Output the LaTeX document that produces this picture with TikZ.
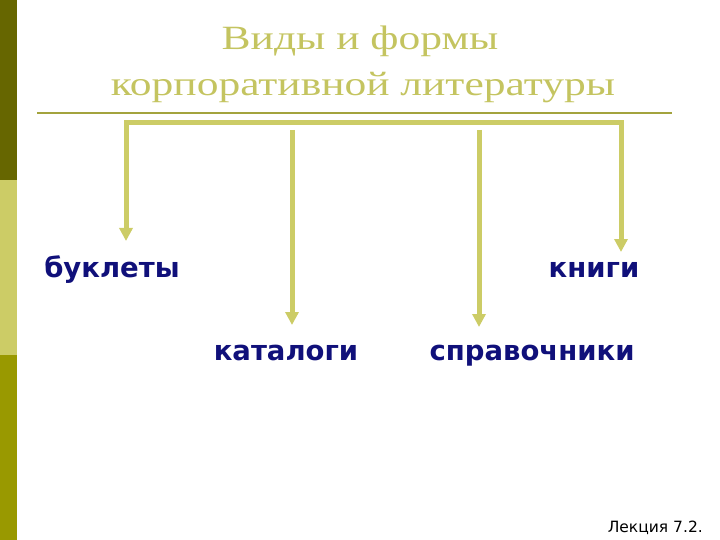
\documentclass[tikz,border=0pt]{standalone}
\usepackage{graphicx}
\usepackage{fontspec}
\setmainfont{Liberation Serif}
\newfontfamily\kindfont{DejaVu Sans}
\usetikzlibrary{arrows.meta}

\definecolor{olivedark}{HTML}{666600}
\definecolor{olivelight}{HTML}{CCCC66}
\definecolor{olivemid}{HTML}{999900}
\definecolor{titlecol}{HTML}{C4C460}
\definecolor{rulecol}{HTML}{A3A33D}
\definecolor{kindblue}{HTML}{10107A}

\newcommand{\widetitle}[1]{\scalebox{1.28}[1]{#1}}

\tikzset{
  title/.style={font=\fontsize{34}{40}\selectfont, text=titlecol, inner sep=0pt, anchor=base},
  kind/.style={font=\kindfont\bfseries\fontsize{27.5}{32}\selectfont, text=kindblue, inner sep=0pt, anchor=base},
  branch/.style={draw=olivelight, line width=5pt, >={Triangle[width=13pt,length=13pt]}},
}

\begin{document}
\begin{tikzpicture}[x=1pt,y=-1pt]
\useasboundingbox (0,0) rectangle (720,540);

% side bar
\fill[olivedark]  (0,0)   rectangle (17,180);
\fill[olivelight] (0,180) rectangle (17,355);
\fill[olivemid]   (0,355) rectangle (17,540);

\node[title] (t1) at (360,50) {\widetitle{Виды и формы}};
\node[title] (t2) at (363,96) {\widetitle{корпоративной литературы}};
\draw[rulecol, line width=2pt] (37,113) -- (672,113);

\node[kind] (bukl) at (112,277) {буклеты};
\node[kind] (knig) at (594,277) {книги};
\node[kind] (kat)  at (286,360) {каталоги};
\node[kind] (spr)  at (532,360) {справочники};

\coordinate (b1) at (126,123);
\coordinate (b4) at (621,123);
\coordinate (b2) at (292,130);
\coordinate (b3) at (479,130);

\coordinate (e1) at (126,241);
\coordinate (e2) at (292,325);
\coordinate (e3) at (479,327);
\coordinate (e4) at (621,252);

\draw[branch, <->] (e1) -- (b1) -- (b4) -- (e4);
\draw[branch, ->] (b2) -- (e2);
\draw[branch, ->] (b3) -- (e3);

\node[font=\kindfont\fontsize{15.5}{18}\selectfont, anchor=base east, inner sep=0pt] (lect) at (703,532) {Лекция 7.2.};
\end{tikzpicture}
\end{document}
